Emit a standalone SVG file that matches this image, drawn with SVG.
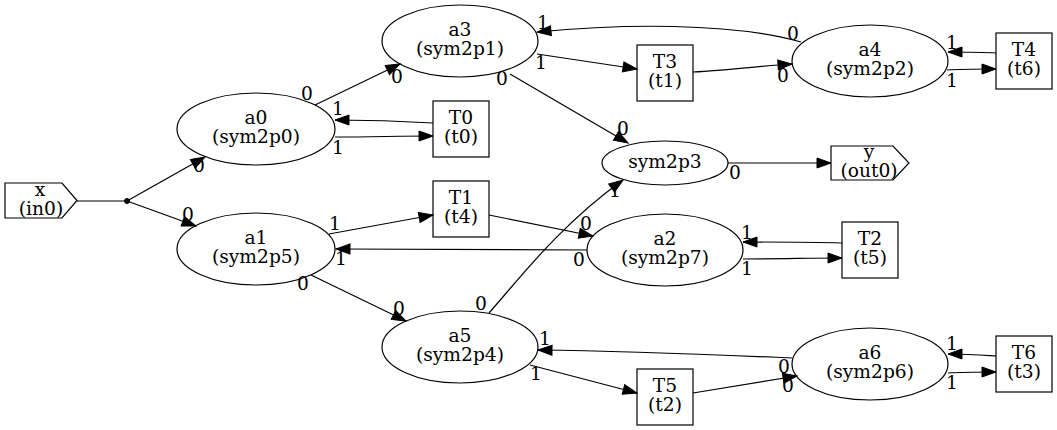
<svg xmlns="http://www.w3.org/2000/svg" width="1057" height="430" viewBox="0 0 1057 430">
<defs>
<style>
.n{fill:none;stroke:#000;stroke-width:1.2}
.t{font-family:"DejaVu Serif","Liberation Serif",serif;font-size:18.67px;fill:#000;text-anchor:middle}
.e{fill:none;stroke:#000;stroke-width:1.2}
.l{font-family:"DejaVu Serif","Liberation Serif",serif;font-size:18.67px;fill:#000;text-anchor:middle}
</style>
<marker id="ah" markerWidth="16" markerHeight="12" refX="14" refY="5" orient="auto" markerUnits="userSpaceOnUse" overflow="visible">
<path d="M0,0 L14,5 L0,10 z" fill="#000" stroke="#000" stroke-width="1"/>
</marker>
</defs>
<rect width="1057" height="430" fill="#fff"/>

<g id="connectors">
<path class="e" d="M77,201 L125,201"/>
<path class="e" marker-end="url(#ah)" d="M127,201 L205,157"/>
<path class="e" marker-end="url(#ah)" d="M127,201 L196,226"/>
<path class="e" marker-end="url(#ah)" d="M315,105 L400,64"/>
<path class="e" marker-end="url(#ah)" d="M433,123 C400,121 370,120 335,120"/>
<path class="e" marker-end="url(#ah)" d="M335,137 C370,137 400,136 433,136"/>
<path class="e" marker-end="url(#ah)" d="M801,42 C730,22 620,24 537,32"/>
<path class="e" marker-end="url(#ah)" d="M537,54 L637,69"/>
<path class="e" marker-end="url(#ah)" d="M693,72 C730,70 760,66 792,64"/>
<path class="e" marker-end="url(#ah)" d="M510,74 L628,143"/>
<path class="e" marker-end="url(#ah)" d="M996,53 C980,52 965,52 948,52"/>
<path class="e" marker-end="url(#ah)" d="M947,70 C960,69 980,69 996,69"/>
<path class="e" marker-end="url(#ah)" d="M728,163 L831,163"/>
<path class="e" marker-end="url(#ah)" d="M489,313 C520,278 560,225 623,180"/>
<path class="e" marker-end="url(#ah)" d="M329,234 L433,215"/>
<path class="e" marker-end="url(#ah)" d="M489,215 L593,236"/>
<path class="e" marker-end="url(#ah)" d="M587,250 L336,249"/>
<path class="e" marker-end="url(#ah)" d="M311,275 L406,321"/>
<path class="e" marker-end="url(#ah)" d="M842,243 C810,242 780,242 743,242"/>
<path class="e" marker-end="url(#ah)" d="M743,259 C780,259 810,258 842,258"/>
<path class="e" marker-end="url(#ah)" d="M792,358 C700,354 620,351 538,350"/>
<path class="e" marker-end="url(#ah)" d="M530,365 L637,393"/>
<path class="e" marker-end="url(#ah)" d="M693,393 L797,376"/>
<path class="e" marker-end="url(#ah)" d="M996,356 C980,355 965,354 948,354"/>
<path class="e" marker-end="url(#ah)" d="M948,373 C962,372 980,372 996,372"/>
<g>
<text class="l" x="199" y="172">0</text>
<text class="l" x="188" y="221">0</text>
<text class="l" x="307" y="100">0</text>
<text class="l" x="397" y="83">0</text>
<text class="l" x="338" y="115">1</text>
<text class="l" x="338" y="154">1</text>
<text class="l" x="543" y="29">1</text>
<text class="l" x="541" y="69">1</text>
<text class="l" x="502" y="85">0</text>
<text class="l" x="623" y="135">0</text>
<text class="l" x="783" y="82">0</text>
<text class="l" x="793" y="40">0</text>
<text class="l" x="952" y="49">1</text>
<text class="l" x="952" y="87">1</text>
<text class="l" x="735" y="179">0</text>
<text class="l" x="615" y="197">1</text>
<text class="l" x="335" y="230">1</text>
<text class="l" x="586" y="230">0</text>
<text class="l" x="579" y="266">0</text>
<text class="l" x="341" y="265">1</text>
<text class="l" x="303" y="290">0</text>
<text class="l" x="399" y="315">0</text>
<text class="l" x="481" y="310">0</text>
<text class="l" x="545" y="345">1</text>
<text class="l" x="536" y="380">1</text>
<text class="l" x="747" y="239">1</text>
<text class="l" x="747" y="275">1</text>
<text class="l" x="784" y="373">0</text>
<text class="l" x="788" y="392">0</text>
<text class="l" x="952" y="350">1</text>
<text class="l" x="952" y="389">1</text>
</g>
</g>

<g id="x">
<polygon class="n" points="5,183 62,183 77,200.5 62,218 5,218"/>
<text class="t" x="40" y="196">x</text>
<text class="t" x="41" y="215">(in0)</text>
</g>
<g id="point">
<circle cx="127" cy="201" r="2.5" fill="#000" stroke="#000"/>
</g>
<g id="a0">
<ellipse class="n" cx="256" cy="129" rx="79" ry="36"/>
<text class="t" x="256" y="124">a0</text>
<text class="t" x="256" y="143">(sym2p0)</text>
</g>
<g id="a1">
<ellipse class="n" cx="256" cy="249" rx="79" ry="36"/>
<text class="t" x="256" y="244">a1</text>
<text class="t" x="256" y="263">(sym2p5)</text>
</g>
<g id="a3">
<ellipse class="n" cx="460" cy="41" rx="78" ry="36"/>
<text class="t" x="460" y="36">a3</text>
<text class="t" x="460" y="55">(sym2p1)</text>
</g>
<g id="T0">
<rect class="n" x="433" y="101" width="56" height="56"/>
<text class="t" x="461" y="124">T0</text>
<text class="t" x="461" y="143">(t0)</text>
</g>
<g id="T1">
<rect class="n" x="433" y="181" width="56" height="56"/>
<text class="t" x="461" y="204">T1</text>
<text class="t" x="461" y="223">(t4)</text>
</g>
<g id="a5">
<ellipse class="n" cx="460" cy="347" rx="78" ry="36"/>
<text class="t" x="460" y="342">a5</text>
<text class="t" x="460" y="361">(sym2p4)</text>
</g>
<g id="T3">
<rect class="n" x="637" y="45" width="56" height="56"/>
<text class="t" x="665" y="68">T3</text>
<text class="t" x="665" y="87">(t1)</text>
</g>
<g id="sym2p3">
<ellipse class="n" cx="665" cy="163" rx="63" ry="22"/>
<text class="t" x="665" y="168">sym2p3</text>
</g>
<g id="a2">
<ellipse class="n" cx="665" cy="250" rx="78" ry="36"/>
<text class="t" x="665" y="245">a2</text>
<text class="t" x="665" y="264">(sym2p7)</text>
</g>
<g id="T5">
<rect class="n" x="637" y="369" width="56" height="56"/>
<text class="t" x="665" y="392">T5</text>
<text class="t" x="665" y="411">(t2)</text>
</g>
<g id="a4">
<ellipse class="n" cx="870" cy="61" rx="78" ry="36"/>
<text class="t" x="870" y="56">a4</text>
<text class="t" x="870" y="75">(sym2p2)</text>
</g>
<g id="y">
<polygon class="n" points="831,146 893,146 909,163 893,180 831,180"/>
<text class="t" x="869" y="158">y</text>
<text class="t" x="869" y="177">(out0)</text>
</g>
<g id="T2">
<rect class="n" x="842" y="222" width="56" height="56"/>
<text class="t" x="870" y="245">T2</text>
<text class="t" x="870" y="264">(t5)</text>
</g>
<g id="a6">
<ellipse class="n" cx="870" cy="364" rx="78" ry="36"/>
<text class="t" x="870" y="359">a6</text>
<text class="t" x="870" y="378">(sym2p6)</text>
</g>
<g id="T4">
<rect class="n" x="996" y="33" width="56" height="56"/>
<text class="t" x="1024" y="56">T4</text>
<text class="t" x="1024" y="75">(t6)</text>
</g>
<g id="T6">
<rect class="n" x="996" y="336" width="56" height="56"/>
<text class="t" x="1024" y="359">T6</text>
<text class="t" x="1024" y="378">(t3)</text>
</g>
</svg>
